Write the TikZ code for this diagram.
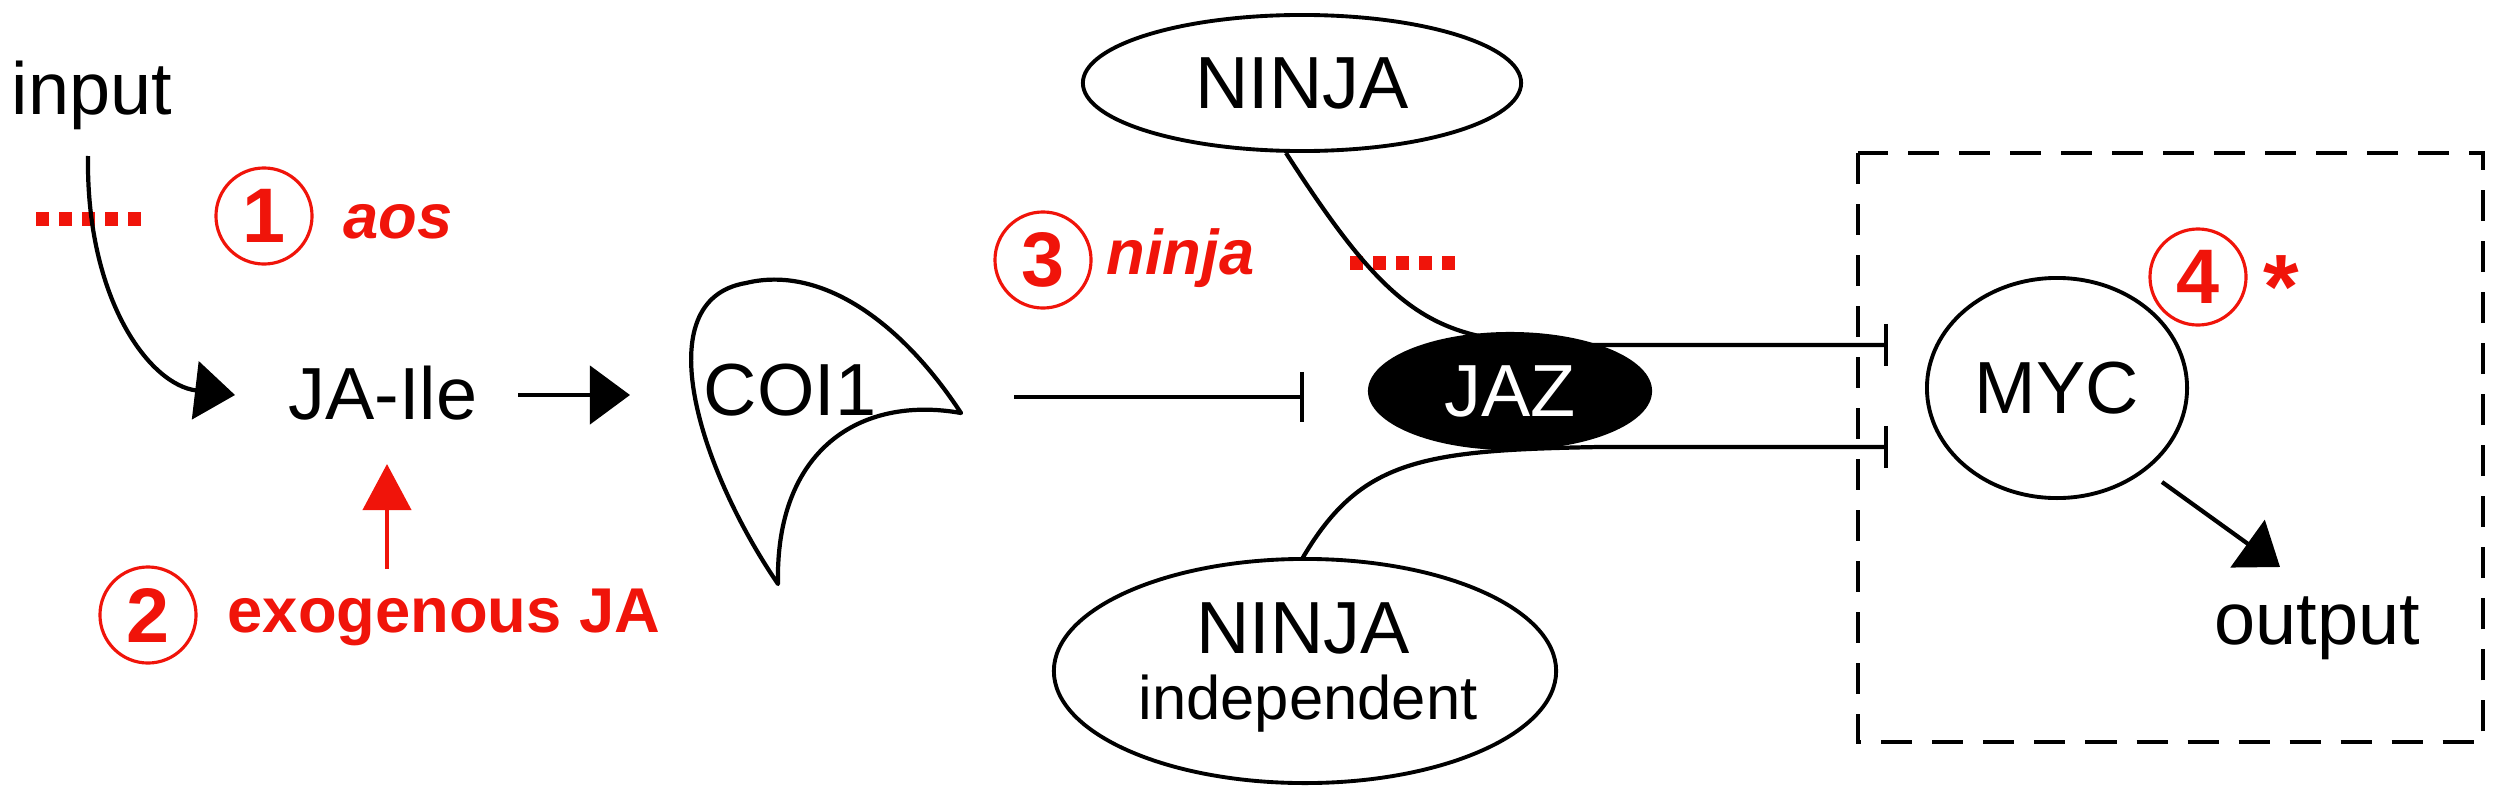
\documentclass[tikz,border=0pt]{standalone}
\usepackage{fontspec}
\setmainfont{Liberation Sans}
\usetikzlibrary{arrows.meta,shapes.geometric}
\definecolor{myred}{RGB}{240,20,10}
\begin{document}
\begin{tikzpicture}[x=0.01cm,y=-0.01cm,
  txt/.style={inner sep=0pt,font=\fontsize{21}{24}\selectfont},
  redtxt/.style={inner sep=0pt,text=myred,font=\fontsize{18}{21}\selectfont\bfseries},
  num/.style={circle,draw=myred,line width=0.9pt,minimum size=0.96cm,inner sep=0pt,text=myred,font=\fontsize{22}{24}\selectfont\bfseries},
  ell/.style={ellipse,draw,line width=1.1pt,inner sep=0pt},
  conn/.style={line width=1.2pt},
  act/.style={conn,-{Triangle[length=4mm,width=5.8mm]}},
  inh/.style={conn,-{Bar[width=4.2mm,line width=1.2pt]}},
  dots/.style={myred,line width=0.13cm,dash pattern=on 0.13cm off 0.10cm}]
\useasboundingbox (0,0) rectangle (2497,800);
% dashed box
\draw[line width=1.2pt,dash pattern=on 0.31cm off 0.2cm] (1858,153) rectangle (2483,742);
% texts / nodes
\node[txt] (input) at (92,95) {input};
\node[txt] (ja) at (383,393) {JA-Ile};
\node[txt] (coi) at (790,390) {COI1};
\node[ell,minimum width=4.38cm,minimum height=1.36cm] (ninja) at (1302,83) {\fontsize{21}{24}\selectfont NINJA};
\node[ell,minimum width=5.02cm,minimum height=2.24cm] (indep) at (1305,671) {};
\node[txt] (indep1) at (1303,628) {NINJA};
\node[inner sep=0pt,font=\fontsize{17.5}{20}\selectfont] (indep2) at (1308,704) {independent};
\node[ellipse,fill=black,minimum width=2.84cm,minimum height=1.18cm,inner sep=0pt,text=white,font=\fontsize{21}{24}\selectfont] (jaz) at (1510,391) {JAZ};
\node[ell,minimum width=2.6cm,minimum height=2.2cm,font=\fontsize{21}{24}\selectfont] (myc) at (2057,388) {MYC};
\node[txt] (output) at (2317,628) {output};
% COI1 shape
\draw[conn,line join=round] (746,283) .. controls (820,265) and (900,320) .. (961,413)
  .. controls (860,395) and (775,450) .. (778,584)
  .. controls (700,470) and (645,300) .. (746,283);
% red annotations
\node[num] (n1) at (264,216) {1};
\node[redtxt,font=\fontsize{18}{21}\selectfont\bfseries\itshape,anchor=west] (aos) at (343,222) {aos};
\node[num] (n2) at (148,615) {2};
\node[redtxt,anchor=west] (exo) at (227,617) {exogenous JA};
\node[num] (n3) at (1043,260) {3};
\node[redtxt,font=\fontsize{18}{21}\selectfont\bfseries\itshape,anchor=west] (ninjatxt) at (1106,258) {ninja};
\node[num] (n4) at (2198,277) {4};
\node[inner sep=0pt,anchor=north,text=myred,font=\fontsize{26}{28}\selectfont\bfseries] (star) at (2281,255) {*};
\coordinate (d1a) at (36,219); \coordinate (d1b) at (145,219);
\coordinate (d2a) at (1350,263); \coordinate (d2b) at (1459,263);
\draw[dots] (d1a) -- (d1b);
\draw[dots] (d2a) -- (d2b);
% connectors
\coordinate (inS) at (88,156);
\coordinate (jaW) at (235,395);
\draw[act] (inS) .. controls (86,300) and (150,385) .. (jaW);
\coordinate (jaE) at (518,395);
\coordinate (coiW) at (630,395);
\draw[act] (jaE) -- (coiW);
\coordinate (coiE) at (1014,397);
\coordinate (jazW) at (1304,397);
\draw[conn,-{Bar[width=5mm,line width=1.2pt]}] (coiE) -- (jazW);
\coordinate (exoN) at (387,569);
\coordinate (jaS) at (387,464);
\draw[myred,line width=1.2pt,-{Triangle[length=4.6mm,width=4.8mm]}] (exoN) -- (jaS);
\coordinate (ninS) at (1286,153);
\coordinate (mycT) at (1888,345);
\draw[inh] (ninS) .. controls (1400,330) and (1440,345) .. (1600,345) -- (mycT);
\coordinate (indN) at (1302,559);
\coordinate (mycB) at (1888,447);
\draw[inh] (indN) .. controls (1360,460) and (1420,450) .. (1600,447) -- (mycB);
\coordinate (mycSE) at (2162,482);
\coordinate (outN) at (2280,567);
\draw[act] (mycSE) -- (outN);
\end{tikzpicture}
\end{document}
